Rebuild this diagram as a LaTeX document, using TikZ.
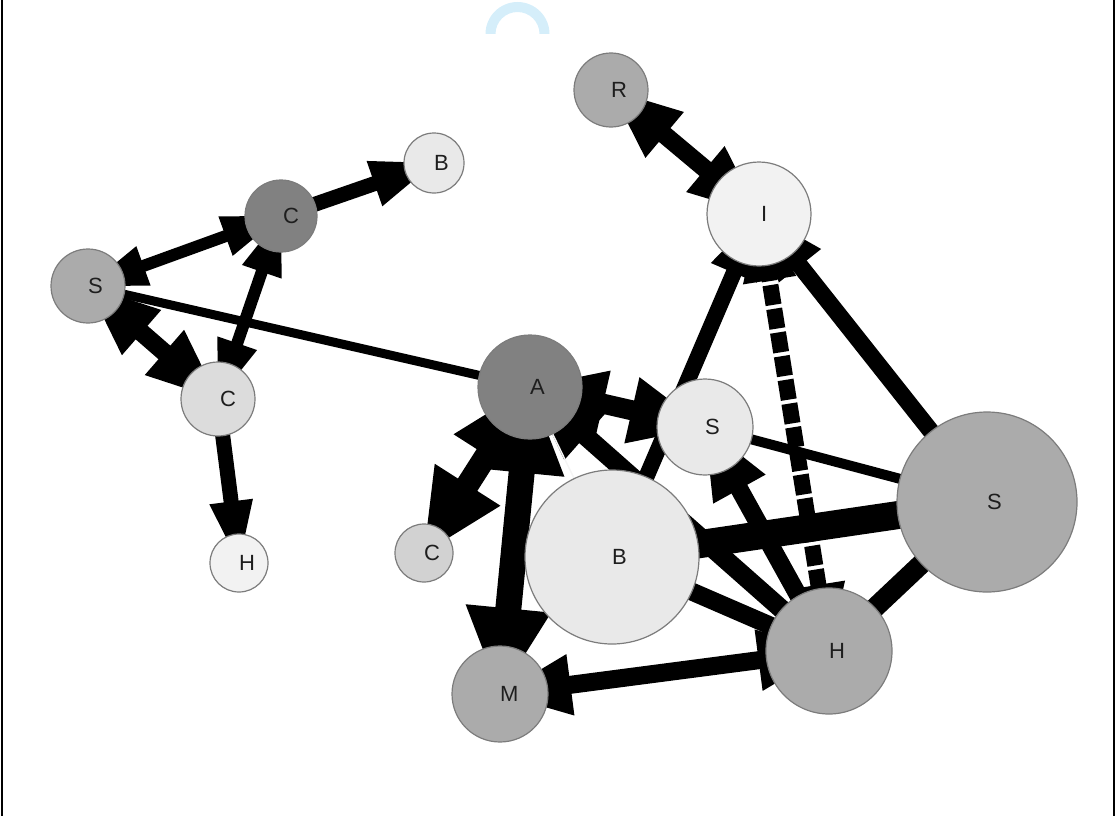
\documentclass[tikz,border=0pt]{standalone}
\usepackage{fontspec}
\setmainfont{Liberation Sans}
\usetikzlibrary{calc}
\pgfdeclarelayer{edges}
\pgfsetlayers{edges,main}
\definecolor{gmid}{HTML}{ABABAB}
\definecolor{gdark}{HTML}{818181}
\definecolor{glt}{HTML}{E9E9E9}
\definecolor{glt2}{HTML}{DCDCDC}
\definecolor{glt3}{HTML}{D2D2D2}
\definecolor{gvlt}{HTML}{F2F2F2}
\definecolor{rim}{HTML}{7C7C7C}
\definecolor{arcblue}{HTML}{D5EEFA}
\definecolor{txt}{HTML}{1E1E1E}
\newcommand{\arrhead}[4]{%
  \coordinate (hb) at ($(#2.center)!#4!(#1.center)$);
  \fill (#2.center) -- ($(hb)!#3!90:(#2.center)$) -- ($(hb)!#3!-90:(#2.center)$) -- cycle;}
\begin{document}
\begin{tikzpicture}[x=1pt,y=-1pt,
  nd/.style={circle,draw=rim,line width=1.2pt,inner sep=0pt},
  lab/.style={anchor=west,inner sep=0pt,text=txt,font=\fontsize{22}{22}\selectfont},
  ed/.style={draw=black,line cap=butt}]
\useasboundingbox (0,0) rectangle (1115,816);
% frame
\draw[line width=2pt] (2,0) -- (2,816);
\draw[line width=2pt] (1114,0) -- (1114,816);
% blue arc
\fill[arcblue] (485.5,34) arc[start angle=180,end angle=0,radius=32pt] -- (539.5,34) arc[start angle=0,end angle=180,radius=22pt] -- cycle;
% nodes
\node[nd,fill=gmid,minimum size=74pt] (R) at (611,90) {};
\node[nd,fill=gvlt,minimum size=104pt] (I) at (759,214) {};
\node[nd,fill=glt,minimum size=60pt] (Bt) at (434,163) {};
\node[nd,fill=gdark,minimum size=72pt] (Ct) at (281,216) {};
\node[nd,fill=gmid,minimum size=74pt] (Sl) at (88,286) {};
\node[nd,fill=glt2,minimum size=74pt] (Cm) at (218,399) {};
\node[nd,fill=gvlt,minimum size=58pt] (Hl) at (239,563) {};
\node[nd,fill=glt3,minimum size=58pt] (Cs) at (424,553) {};
\node[nd,fill=gdark,minimum size=104pt] (A) at (530,387) {};
\node[nd,fill=glt,minimum size=96pt] (Sm) at (705,427) {};
\node[nd,fill=glt,minimum size=174pt] (Bb) at (612,557) {};
\node[nd,fill=gmid,minimum size=180pt] (Sb) at (987,502) {};
\node[nd,fill=gmid,minimum size=126pt] (Hb) at (829,651) {};
\node[nd,fill=gmid,minimum size=96pt] (M) at (500,694) {};
% labels
\node[lab] (tR) at (R.center) {R};
\node[lab] (tI) at ([xshift=2pt]I.center) {I};
\node[lab] (tBt) at (Bt.center) {B};
\node[lab] (tCt) at ([xshift=2pt]Ct.center) {C};
\node[lab] (tSl) at (Sl.center) {S};
\node[lab] (tCm) at ([xshift=2pt]Cm.center) {C};
\node[lab] (tHl) at (Hl.center) {H};
\node[lab] (tCs) at (Cs.center) {C};
\node[lab] (tA) at (A.center) {A};
\node[lab] (tSm) at (Sm.center) {S};
\node[lab] (tBb) at (Bb.center) {B};
\node[lab] (tSb) at (Sb.center) {S};
\node[lab] (tHb) at (Hb.center) {H};
\node[lab] (tM) at (M.center) {M};
% edges
\begin{pgfonlayer}{edges}
\draw[ed,line width=12pt] (Sl.center) -- (Ct.center);
\arrhead{Sl}{Ct}{21pt}{59pt}\arrhead{Ct}{Sl}{21pt}{59pt}
\draw[ed,line width=15pt] (Ct.center) -- (Bt.center);
\arrhead{Ct}{Bt}{24pt}{63pt}
\draw[ed,line width=12pt] (Ct.center) -- (Cm.center);
\arrhead{Ct}{Cm}{21pt}{59pt}\arrhead{Cm}{Ct}{21pt}{59pt}
\draw[ed,line width=18pt] (Sl.center) -- (Cm.center);
\arrhead{Sl}{Cm}{30pt}{71pt}\arrhead{Cm}{Sl}{30pt}{71pt}
\draw[ed,line width=9pt] (Sl.center) -- (A.center);
\draw[ed,line width=15pt] (Cm.center) -- (Hl.center);
\arrhead{Cm}{Hl}{22pt}{62pt}
\draw[ed,line width=18pt] (R.center) -- (I.center);
\arrhead{R}{I}{30pt}{70pt}\arrhead{I}{R}{30pt}{70pt}
\draw[ed,line width=16pt] (Bb.center) -- (I.center);
\arrhead{Bb}{I}{25pt}{64pt}
\draw[ed,line width=17pt] (Sb.center) -- (I.center);
\arrhead{Sb}{I}{27pt}{66pt}
\draw[ed,line width=16pt,dash pattern=on 20pt off 4pt] (I.center) -- (Hb.center);
\arrhead{Hb}{I}{27pt}{67pt}\arrhead{I}{Hb}{27pt}{67pt}
\draw[ed,line width=10pt] (Sm.center) -- (Sb.center);
\draw[ed,line width=18pt] (Hb.center) -- (Sm.center);
\arrhead{Hb}{Sm}{30pt}{71pt}
\draw[ed,line width=20pt] (A.center) -- (Sm.center);
\arrhead{A}{Sm}{34pt}{75pt}\arrhead{Sm}{A}{34pt}{75pt}
\draw[ed,line width=23pt] (A.center) -- (Cs.center);
\arrhead{A}{Cs}{39pt}{81pt}\arrhead{Cs}{A}{39pt}{81pt}
\draw[ed,line width=26pt] (A.center) -- (M.center);
\arrhead{A}{M}{43pt}{86pt}\arrhead{M}{A}{43pt}{86pt}
\draw[ed,line width=19pt] (Hb.center) -- (A.center);
\arrhead{Hb}{A}{32pt}{74pt}
\draw[ed,line width=28pt] (Bb.center) -- (Sb.center);
\draw[ed,line width=18pt] (Bb.center) -- (Hb.center);
\draw[ed,line width=20pt] (Hb.center) -- (Sb.center);
\draw[ed,line width=18pt] (Hb.center) -- (M.center);
\arrhead{Hb}{M}{31pt}{71pt}\arrhead{M}{Hb}{31pt}{71pt}
\draw[line width=1.5pt,draw=white!92!gray] (A.center) -- (Bb.center);
\end{pgfonlayer}
\end{tikzpicture}
\end{document}
